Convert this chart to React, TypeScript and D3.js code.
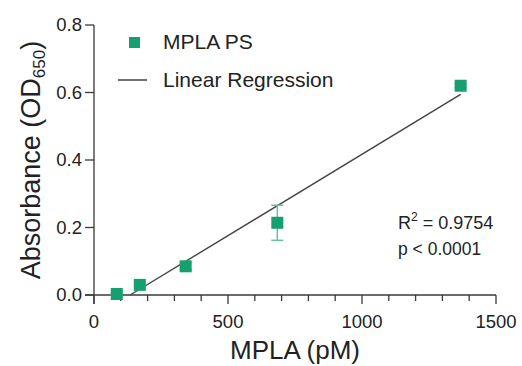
import { useEffect, useRef } from 'react'
import * as d3 from 'd3'

const W = 522
const H = 366
const FONT = '"Liberation Sans", Arial, sans-serif'
const GREEN = '#16a06f'
const ERR = '#62c39d'
const AXIS = '#3a3a3a'

// data: MPLA concentration (pM) vs absorbance, mean ± SD
const conc = [85, 171, 342, 684, 1368]
const absorb = [0.003, 0.03, 0.085, 0.214, 0.62]
const sd = [0.003, 0.004, 0.01, 0.052, 0.006]

const xTicks = [0, 500, 1000, 1500]
const xMinor = [100, 200, 300, 400, 600, 700, 800, 900, 1100, 1200, 1300, 1400]
const yTicks = [0, 0.2, 0.4, 0.6, 0.8]

function fitLine(xs: number[], ys: number[]) {
  const mx = d3.mean(xs)!
  const my = d3.mean(ys)!
  let sxy = 0, sxx = 0
  xs.forEach((x, i) => { sxy += (x - mx) * (ys[i] - my); sxx += (x - mx) ** 2 })
  const slope = sxy / sxx
  return { slope, intercept: my - slope * mx }
}

export default function App() {
  const svgRef = useRef<SVGSVGElement>(null)

  useEffect(() => {
    const svg = d3.select(svgRef.current)
    svg.selectAll('*').remove()
    const x = d3.scaleLinear().domain([0, 1500]).range([94, 496])
    const y = d3.scaleLinear().domain([0, 0.8]).range([295, 25])
    const g = svg.append('g')

    // axes
    g.append('line').attr('x1', x(0)).attr('x2', x(0)).attr('y1', y(0.8)).attr('y2', y(0) + 9).attr('stroke', AXIS).attr('stroke-width', 1.3)
    g.append('line').attr('x1', x(0) - 9).attr('x2', x(1500)).attr('y1', y(0)).attr('y2', y(0)).attr('stroke', AXIS).attr('stroke-width', 1.3)
    yTicks.forEach((t) => {
      g.append('line').attr('x1', x(0) - 9).attr('x2', x(0)).attr('y1', y(t)).attr('y2', y(t)).attr('stroke', AXIS).attr('stroke-width', 1.3)
      g.append('text').attr('x', x(0) - 12).attr('y', y(t)).attr('dy', '0.35em').attr('text-anchor', 'end')
        .attr('font-size', 18.5).attr('font-family', FONT).attr('fill', '#222').text(t.toFixed(1))
    })
    xTicks.forEach((t) => {
      g.append('line').attr('x1', x(t)).attr('x2', x(t)).attr('y1', y(0)).attr('y2', y(0) + 9).attr('stroke', AXIS).attr('stroke-width', 1.3)
      g.append('text').attr('x', x(t)).attr('y', 328).attr('text-anchor', 'middle')
        .attr('font-size', 18.5).attr('font-family', FONT).attr('fill', '#222').text(t)
    })
    xMinor.forEach((t) => {
      g.append('line').attr('x1', x(t)).attr('x2', x(t)).attr('y1', y(0)).attr('y2', y(0) + 6).attr('stroke', AXIS).attr('stroke-width', 1.3)
    })

    // axis titles
    g.append('text').attr('x', (x(0) + x(1500)) / 2).attr('y', 359).attr('text-anchor', 'middle')
      .attr('font-size', 26).attr('font-family', FONT).attr('fill', '#222').text('MPLA (pM)')
    const yl = g.append('text').attr('transform', `translate(40,${(y(0) + y(0.8)) / 2}) rotate(-90)`).attr('text-anchor', 'middle')
      .attr('font-size', 27).attr('font-family', FONT).attr('fill', '#222')
    yl.append('tspan').text('Absorbance (OD')
    yl.append('tspan').attr('font-size', 17).attr('dy', 5).text('650')
    yl.append('tspan').attr('dy', -5).text(')')

    // regression
    const { slope, intercept } = fitLine(conc, absorb)
    const x0 = Math.max(d3.min(conc)!, -intercept / slope)
    const x1 = d3.max(conc)!
    g.append('line').attr('x1', x(x0)).attr('y1', y(slope * x0 + intercept)).attr('x2', x(x1)).attr('y2', y(slope * x1 + intercept))
      .attr('stroke', '#444').attr('stroke-width', 1.4)

    // points with error bars
    conc.forEach((c, i) => {
      const cx = x(c)
      const lo = y(absorb[i] - sd[i])
      const hi = y(absorb[i] + sd[i])
      g.append('line').attr('x1', cx).attr('x2', cx).attr('y1', lo).attr('y2', hi).attr('stroke', ERR).attr('stroke-width', 1.5)
      ;[lo, hi].forEach((yy) => g.append('line').attr('x1', cx - 6).attr('x2', cx + 6).attr('y1', yy).attr('y2', yy).attr('stroke', ERR).attr('stroke-width', 1.5))
      g.append('rect').attr('x', cx - 6).attr('y', y(absorb[i]) - 6).attr('width', 12).attr('height', 12).attr('fill', GREEN)
    })

    // legend
    g.append('rect').attr('x', 129).attr('y', 37).attr('width', 11).attr('height', 11).attr('fill', GREEN)
    g.append('text').attr('x', 163).attr('y', 49).attr('font-size', 21).attr('font-family', FONT).attr('fill', '#222').text('MPLA PS')
    g.append('line').attr('x1', 118).attr('x2', 147).attr('y1', 80).attr('y2', 80).attr('stroke', '#333').attr('stroke-width', 1.4)
    g.append('text').attr('x', 163).attr('y', 87).attr('font-size', 21).attr('font-family', FONT).attr('fill', '#222').text('Linear Regression')

    // stats
    const r2 = g.append('text').attr('x', 398).attr('y', 229).attr('font-size', 18).attr('font-family', FONT).attr('fill', '#222')
    r2.append('tspan').text('R')
    r2.append('tspan').attr('font-size', 12).attr('dy', -8).text('2')
    r2.append('tspan').attr('dy', 8).text(' = 0.9754')
    g.append('text').attr('x', 398).attr('y', 255).attr('font-size', 17.5).attr('font-family', FONT).attr('fill', '#222').text('p < 0.0001')
  }, [])

  return (
    <div style={{ position: 'fixed', left: 0, top: 0, width: W, height: H, background: '#fff' }}>
      <svg ref={svgRef} width={W} height={H} />
    </div>
  )
}
